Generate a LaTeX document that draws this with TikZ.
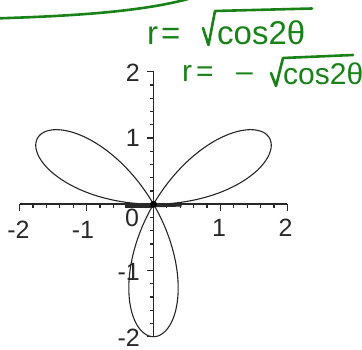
\documentclass[tikz,border=0pt]{standalone}
\usepackage{fontspec}
\setmainfont{Liberation Sans}
\definecolor{handgreen}{RGB}{24,130,24}
\definecolor{axisgray}{RGB}{40,40,40}
\begin{document}
\begin{tikzpicture}[x=1pt,y=-1pt,
  axisline/.style={draw=axisgray,line width=1.4pt},
  tickmark/.style={draw=axisgray,line width=1.2pt},
  curveline/.style={draw=black!85,line width=1.1pt},
  ticklabel/.style={font=\fontsize{25}{25}\selectfont,text=axisgray,inner sep=0pt},
  handtext/.style={font=\fontsize{33}{33}\selectfont,text=handgreen,inner sep=0pt},
  handtextsm/.style={font=\fontsize{30}{30}\selectfont,text=handgreen,inner sep=0pt},
  handstroke/.style={draw=handgreen,line width=2.6pt,line cap=round,line join=round}]
\useasboundingbox (0,0) rectangle (362,350);
\coordinate (O) at (153.5,204.2);
\begin{scope}[shift={(O)},x=66.9pt,y=66.25pt]
  \coordinate (xl) at (-2,0);
  \coordinate (xr) at (2,0);
  \coordinate (yt) at (0,2);
  \coordinate (yb) at (0,-2);
  \coordinate (thl) at (-0.43,-0.02);
  \coordinate (thm) at (0,-0.02);
  \coordinate (thr) at (0.42,-0.01);
  \draw[axisline] (xl) -- (xr);
  \draw[axisline] (yb) -- (yt);
  \foreach \i in {-10,...,10}{
    \draw[tickmark] (\i/5,0) -- ++(0,-4pt);
    \draw[tickmark] (0,\i/5) -- ++(-4pt,0);
  }
  \foreach \i in {-2,...,2}{
    \draw[tickmark] (\i,0) -- ++(0,-6.5pt);
    \draw[tickmark] (0,\i) -- ++(-6.5pt,0);
  }
  \draw[curveline] plot[samples=361, domain=0:180, variable=\t]
    ({2*sin(3*\t)*cos(\t)},{2*sin(3*\t)*sin(\t)});
  \draw[axisgray,line width=5pt] (thl) -- (thm);
  \draw[axisgray,line width=3.5pt] (thm) -- (thr);
  \fill[black] (O) circle (3.5pt);
\end{scope}
% axis labels
\node[ticklabel] (lxm2) at (18.5,229.5) {-2};
\node[ticklabel] (lxm1) at (83,229.5) {-1};
\node[ticklabel] (lx0) at (132,217.5) {0};
\node[ticklabel] (lx1) at (219,228) {1};
\node[ticklabel] (lx2) at (285.5,228) {2};
\node[ticklabel,anchor=east] (ly2) at (140,72.8) {2};
\node[ticklabel,anchor=east] (ly1) at (140,138) {1};
\node[ticklabel,anchor=east] (lym1) at (140,271.5) {-1};
\node[ticklabel,anchor=east] (lym2) at (140,338) {-2};
% green annotations
\coordinate (c0) at (0,18.3);
\coordinate (c1) at (188,-1);
\draw[handstroke] (c0) .. controls (70,16) and (140,12) .. (c1);
\node[handtext,anchor=base west] (r1) at (147,45) {r\kern3pt=};
\coordinate (s1a) at (203,28);
\coordinate (s1b) at (208.5,45);
\coordinate (s1c) at (215,11);
\coordinate (s1d) at (312,8.5);
\draw[handstroke] (s1a) -- (s1b) -- (s1c) -- (s1d);
\node[handtext,anchor=base west] (f1) at (217,45) {cos2θ};
\node[handtextsm,anchor=base west] (r2) at (182,82) {r\kern4pt=};
\node[handtextsm,anchor=base west] (m2) at (236,82) {–};
\coordinate (s2a) at (271,73);
\coordinate (s2b) at (276,86);
\coordinate (s2c) at (283,58);
\coordinate (s2d) at (353,55);
\draw[handstroke] (s2a) -- (s2b) -- (s2c) -- (s2d);
\node[handtextsm,anchor=base west] (f2) at (283,85) {cos2θ};
\end{tikzpicture}
\end{document}
